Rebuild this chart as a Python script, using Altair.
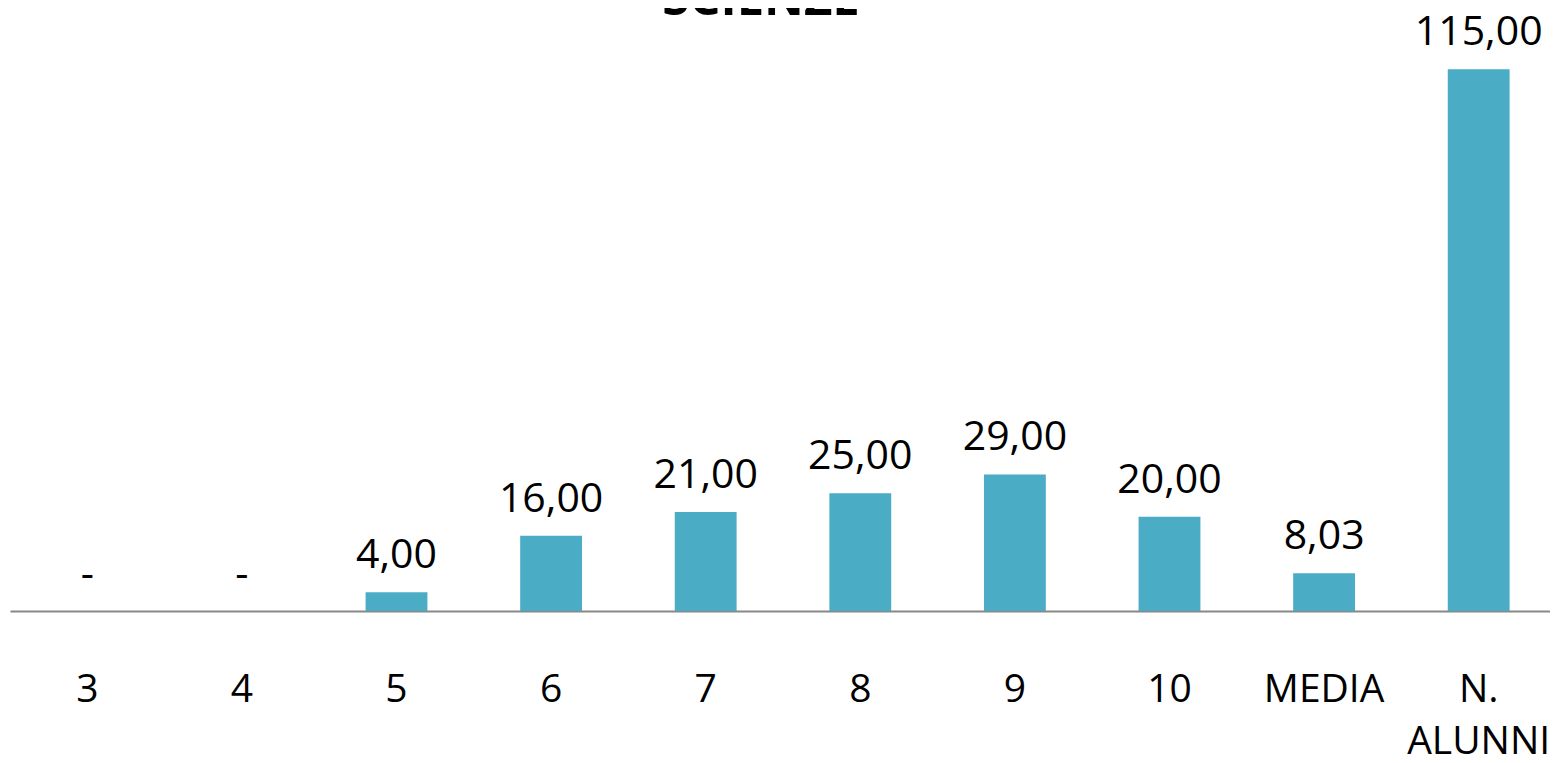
import altair as alt
import pandas as pd

categories = ["3", "4", "5", "6", "7", "8", "9", "10", "MEDIA", "N. ALUNNI"]
values = [0, 0, 4, 16, 21, 25, 29, 20, 8.03, 115]
labels = ["-" if v == 0 else f"{v:.2f}".replace(".", ",") for v in values]
title_text = ["SCIENZE"]

df = pd.DataFrame({"cat": categories, "val": values, "lab": labels})
df_title = pd.DataFrame({"t": title_text})

FONT = "Open Sans"

x = alt.X(
    "cat:N",
    sort=categories,
    title=None,
    scale=alt.Scale(range=[0, 1546], paddingInner=0.6, paddingOuter=0.3),
    axis=alt.Axis(
        labelAngle=0,
        labelFont=FONT,
        labelFontSize=39,
        labelColor="#000000",
        labelBaseline="alphabetic",
        labelPadding=90,
        labelLineHeight=52,
        labelExpr="datum.label == 'N. ALUNNI' ? ['N.', 'ALUNNI'] : datum.label",
        ticks=False,
        tickSize=0,
        domainColor="#888888",
        domainWidth=2,
        grid=False,
        labelOverlap=False,
    ),
)
y = alt.Y("val:Q", scale=alt.Scale(domain=[0, 128], nice=False, zero=True), axis=None)

bars = alt.Chart(df).mark_bar(color="#4BACC6").encode(x=x, y=y)
text = alt.Chart(df).mark_text(
    font=FONT, fontSize=41, color="#000000", baseline="alphabetic", dy=-24
).encode(x=x, y=y, text="lab:N")

title = alt.Chart(df_title).mark_text(
    font=FONT, fontSize=49, fontWeight="bold", color="#000000",
    baseline="alphabetic", align="center",
).encode(x=alt.value(751), y=alt.value(7), text="t:N")

chart = (
    alt.layer(bars, text, title)
    .properties(
        width=1540,
        height=603,
        autosize=alt.AutoSizeParams(type="none"),
        padding={"left": 2, "top": 0, "right": 0, "bottom": 144},
    )
    .configure_view(stroke=None)
)

chart.save("out.html", embed_options={"renderer": "svg", "actions": False})
